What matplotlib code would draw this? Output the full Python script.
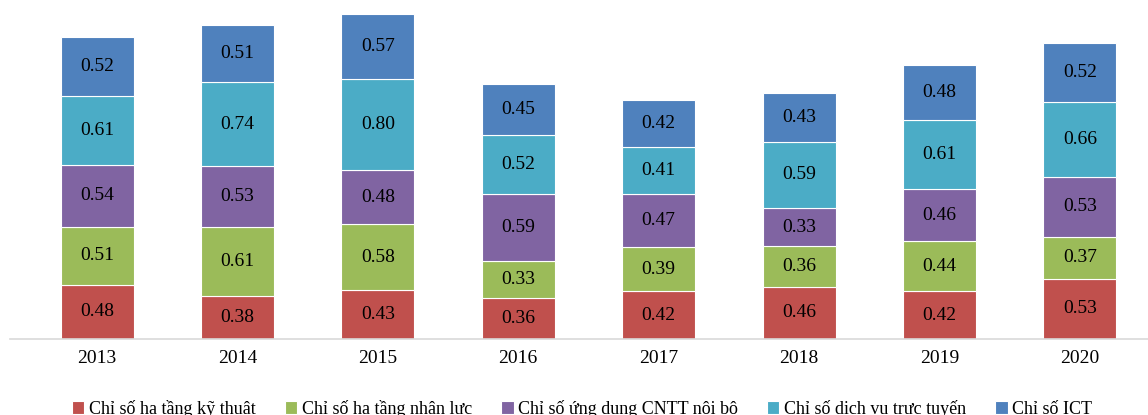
import matplotlib.pyplot as plt
import numpy as np

plt.rcParams['font.family'] = ['Liberation Serif', 'DejaVu Serif']

years = ["2013", "2014", "2015", "2016", "2017", "2018", "2019", "2020"]
ha_tang_ky_thuat = [0.48, 0.38, 0.43, 0.36, 0.42, 0.46, 0.42, 0.53]
ha_tang_nhan_luc = [0.51, 0.61, 0.58, 0.33, 0.39, 0.36, 0.44, 0.37]
ung_dung_cntt = [0.54, 0.53, 0.48, 0.59, 0.47, 0.33, 0.46, 0.53]
dich_vu_truc_tuyen = [0.61, 0.74, 0.80, 0.52, 0.41, 0.59, 0.61, 0.66]
chi_so_ict = [0.52, 0.51, 0.57, 0.45, 0.42, 0.43, 0.48, 0.52]

series = [
    ("Chỉ số hạ tầng kỹ thuật", ha_tang_ky_thuat, "#C0504D"),
    ("Chỉ số hạ tầng nhân lực", ha_tang_nhan_luc, "#9BBB59"),
    ("Chỉ số ứng dụng CNTT nội bộ", ung_dung_cntt, "#8064A2"),
    ("Chỉ số dịch vụ trực tuyến", dich_vu_truc_tuyen, "#4BACC6"),
    ("Chỉ số ICT", chi_so_ict, "#4F81BD"),
]

fig = plt.figure(figsize=(11.48, 4.15), dpi=100)
ax = fig.add_axes([10 / 1148, 76 / 415, 1138 / 1148, 339 / 415])

x = np.arange(len(years))
bottom = np.zeros(len(years))
for name, vals, color in series:
    vals = np.array(vals)
    ax.bar(x, vals, width=0.52, bottom=bottom, color=color,
           edgecolor="white", linewidth=0.8, label=name)
    for xi, b, v in zip(x, bottom, vals):
        ax.text(xi, b + v / 2, f"{v:.2f}", ha="center", va="center",
                fontsize=14, color="black")
    bottom += vals

ax.set_xlim(-0.62, -0.62 + 1138 / 140.4)
ax.set_ylim(0, 339 / 113.5)
ax.set_xticks(x)
ax.set_xticklabels(years, fontsize=14)
ax.tick_params(axis="x", length=0, pad=8)
ax.set_yticks([])
for s in ["top", "right", "left"]:
    ax.spines[s].set_visible(False)
ax.spines["bottom"].set_color("#D9D9D9")
ax.spines["bottom"].set_linewidth(1.2)

fig.legend(loc="center", bbox_to_anchor=(582 / 1148, 6 / 415), ncol=5,
           frameon=False, fontsize=13, handlelength=0.7, handleheight=0.7,
           handletextpad=0.25, columnspacing=1.6)

fig.savefig("out.png", dpi=100)
